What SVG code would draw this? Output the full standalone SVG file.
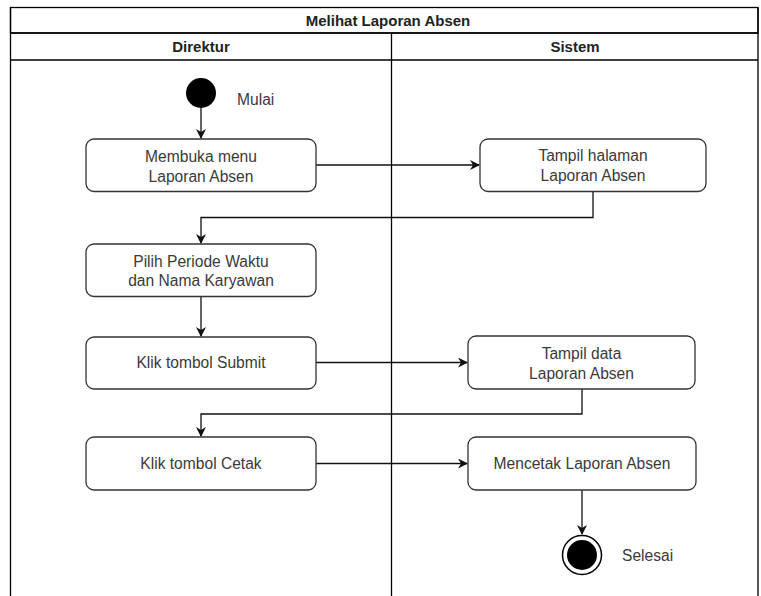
<svg xmlns="http://www.w3.org/2000/svg" width="761" height="596" viewBox="0 0 761 596">
<style>
.frame{fill:none;stroke:#000;stroke-width:1.3}
.hdr{font-family:"Liberation Sans",Arial,sans-serif;font-size:15px;font-weight:bold;fill:#222;text-anchor:middle;dominant-baseline:central}
.box{fill:#fff;stroke:#333;stroke-width:1.3}
.lbl{font-family:"Liberation Sans",Arial,sans-serif;font-size:15.6px;fill:#3a3a3a;text-anchor:middle;dominant-baseline:central}
.side{font-family:"Liberation Sans",Arial,sans-serif;font-size:15.6px;fill:#3a3a3a;dominant-baseline:central}
.edge{fill:none;stroke:#111;stroke-width:1.3}
</style>
<defs>
<marker id="arr" viewBox="0 0 10 10" refX="9" refY="5" markerWidth="10" markerHeight="10" markerUnits="userSpaceOnUse" orient="auto">
<path d="M0,0 L10,5 L0,10 L3,5 Z" fill="#111"/>
</marker>
</defs>
<rect width="761" height="596" fill="#fff"/>
<g id="swimlanes">
<rect x="10.5" y="7.5" width="747.5" height="25.5" fill="#fdfdfd" class="frame"/>
<path class="frame" d="M10.5,7.5 V596 M758,7.5 V596 M10.5,33 H758 M10.5,60 H758 M391.5,33 V596"/>
<text class="hdr" x="388" y="20">Melihat Laporan Absen</text>
<text class="hdr" x="201" y="46.5">Direktur</text>
<text class="hdr" x="575" y="46.5">Sistem</text>
</g>
<g id="connectors">
<path class="edge" d="M201,108 V138" marker-end="url(#arr)"/>
<path class="edge" d="M316,165 H479" marker-end="url(#arr)"/>
<path class="edge" d="M593,191 V217.5 H201 V243" marker-end="url(#arr)"/>
<path class="edge" d="M201,297 V336" marker-end="url(#arr)"/>
<path class="edge" d="M316,362.5 H467" marker-end="url(#arr)"/>
<path class="edge" d="M582,389 V414 H201 V436" marker-end="url(#arr)"/>
<path class="edge" d="M316,463.5 H467" marker-end="url(#arr)"/>
<path class="edge" d="M582,490 V534" marker-end="url(#arr)"/>
</g>
<g id="start">
<circle cx="201" cy="93" r="15" fill="#000"/>
<text class="side" x="237" y="99">Mulai</text>
</g>
<g id="membuka">
<rect class="box" x="86" y="139" width="230" height="52.5" rx="8"/>
<text class="lbl" x="201" y="156">Membuka menu</text>
<text class="lbl" x="201" y="176">Laporan Absen</text>
</g>
<g id="tampil-halaman">
<rect class="box" x="480" y="139" width="226" height="52.5" rx="8"/>
<text class="lbl" x="593" y="155">Tampil halaman</text>
<text class="lbl" x="593" y="175">Laporan Absen</text>
</g>
<g id="pilih">
<rect class="box" x="86" y="244" width="230" height="52.5" rx="8"/>
<text class="lbl" x="201" y="261">Pilih Periode Waktu</text>
<text class="lbl" x="201" y="280">dan Nama Karyawan</text>
</g>
<g id="submit">
<rect class="box" x="86" y="337" width="230" height="52" rx="8"/>
<text class="lbl" x="201" y="362.5">Klik tombol Submit</text>
</g>
<g id="tampil-data">
<rect class="box" x="468" y="336" width="227" height="53" rx="8"/>
<text class="lbl" x="581.5" y="353">Tampil data</text>
<text class="lbl" x="581.5" y="373">Laporan Absen</text>
</g>
<g id="cetak">
<rect class="box" x="86" y="437" width="230" height="53" rx="8"/>
<text class="lbl" x="201" y="463.5">Klik tombol Cetak</text>
</g>
<g id="mencetak">
<rect class="box" x="468" y="437" width="228" height="53" rx="8"/>
<text class="lbl" x="582" y="463.5">Mencetak Laporan Absen</text>
</g>
<g id="end">
<circle cx="582" cy="555" r="19.5" fill="#fff" stroke="#000" stroke-width="1.5"/>
<circle cx="582" cy="555" r="15" fill="#000"/>
<text class="side" x="622" y="555">Selesai</text>
</g>
</svg>
